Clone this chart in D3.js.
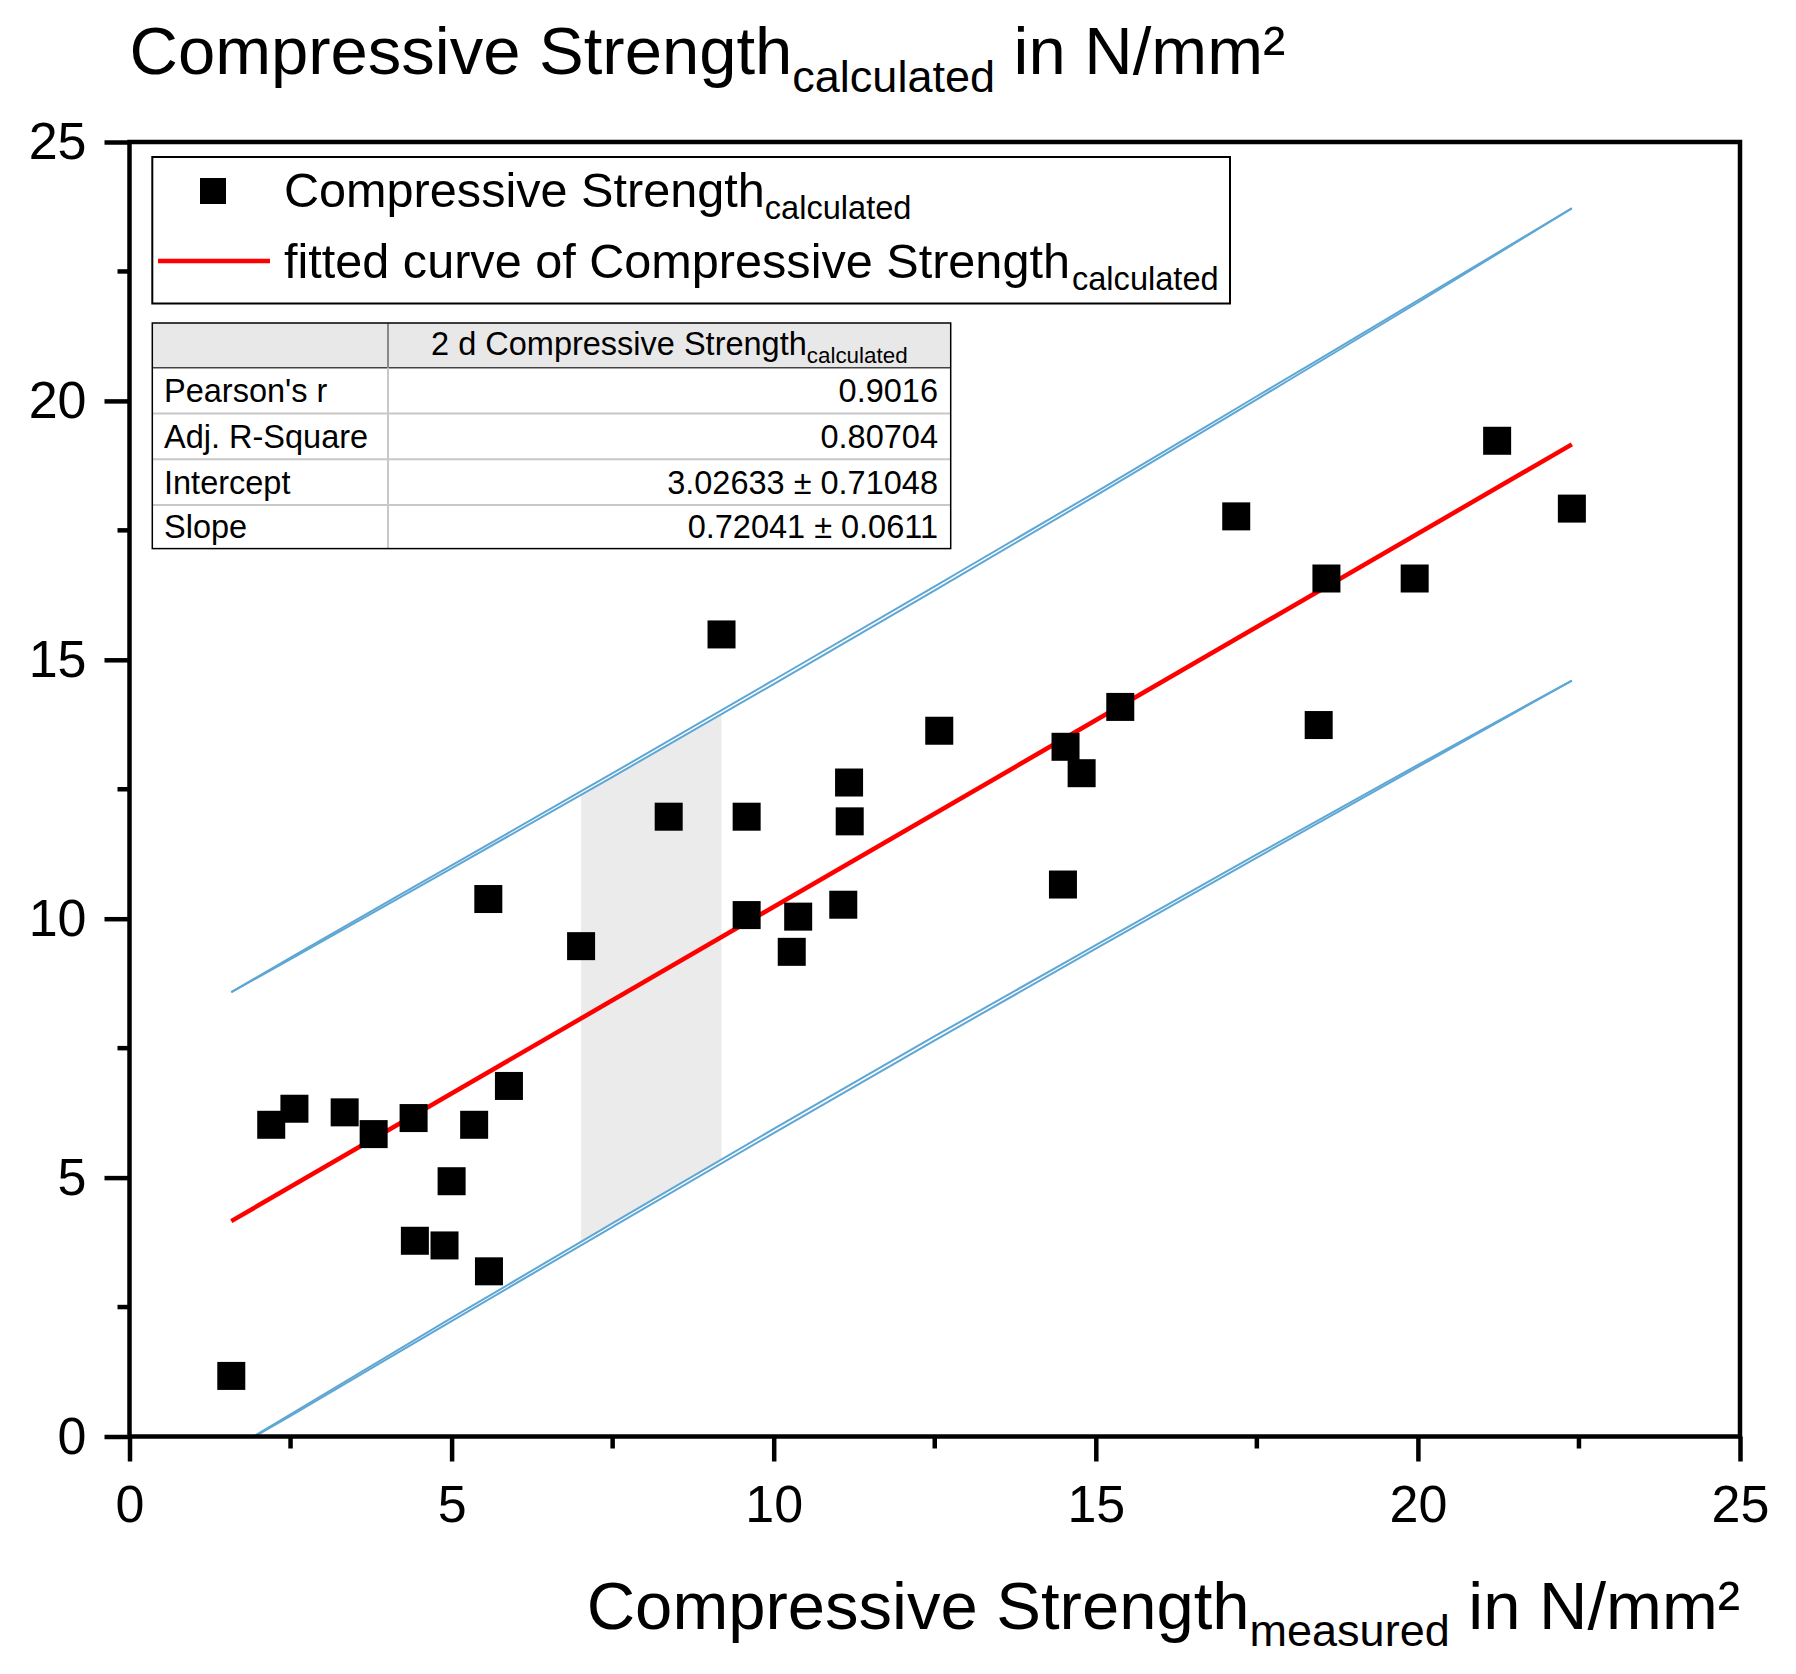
<!DOCTYPE html>
<html>
<head>
<meta charset="utf-8">
<script src="https://cdn.jsdelivr.net/npm/d3@7"></script>
<style>
  body { margin: 0; background: #fff; }
  svg text { font-family: "Liberation Sans", Arial, sans-serif; fill: #000; }
</style>
</head>
<body>
<div id="chart"></div>
<script>
// Measured vs calculated compressive strength (N/mm²)
const measured = [1.58, 2.20, 2.56, 3.34, 3.79, 4.41, 4.43, 4.89, 5.00, 5.35, 5.57, 5.58, 5.89,
  7.01, 8.37, 9.19, 9.58, 9.58, 10.28, 10.38, 11.08, 11.17, 11.18, 12.57, 14.49, 14.53, 14.78,
  15.38, 17.18, 18.46, 18.58, 19.95, 21.23, 22.39];
const calculated = [1.17, 6.02, 6.33, 6.26, 5.84, 6.15, 3.78, 3.69, 4.93, 6.02, 10.38, 3.19, 6.77,
  9.47, 11.97, 15.49, 11.97, 10.07, 9.36, 10.04, 10.27, 12.63, 11.88, 13.63, 10.66, 13.32, 12.81,
  14.09, 17.77, 13.74, 16.57, 16.57, 19.23, 17.92];

// fitted line end points
const fitX = [1.58, 22.39];
const fitY = [4.16, 19.16];

// prediction band lines (two close traces each)
const bandX = [1.58, 2.5, 5, 7.5, 10, 12.5, 15, 17.5, 20, 22.39];
const upperA = [8.58, 9.22, 10.97, 12.74, 14.53, 16.34, 18.17, 20.03, 21.90, 23.72];
const upperB = [8.58, 9.25, 11.03, 12.81, 14.61, 16.42, 18.24, 20.09, 21.94, 23.72];
const lowerA = [-0.26, 0.43, 2.29, 4.12, 5.94, 7.73, 9.49, 11.24, 12.97, 14.60];
const lowerB = [-0.26, 0.40, 2.23, 4.05, 5.86, 7.65, 9.42, 11.18, 12.93, 14.60];

// grey shaded strip
const shadeX = [7.01, 9.19];
const shadeTop = [12.40, 13.93];
const shadeBottom = [3.77, 5.35];

const xTicks = [0, 5, 10, 15, 20, 25];
const yTicks = [0, 5, 10, 15, 20, 25];
const minorTicks = [2.5, 7.5, 12.5, 17.5, 22.5];

const statLabels = ["Pearson's r", "Adj. R-Square", "Intercept", "Slope"];
const statValues = ["0.9016", "0.80704", "3.02633 \u00b1 0.71048", "0.72041 \u00b1 0.0611"];

const width = 1796, height = 1674;
const pLeft = 129.5, pRight = 1740, pTop = 142, pBottom = 1436.5;

const svg = d3.select("#chart").append("svg")
  .attr("width", width)
  .attr("height", height);

const x = d3.scaleLinear().domain([0, 25]).range([pLeft, pRight]);
const y = d3.scaleLinear().domain([0, 25]).range([pBottom, pTop]);

svg.append("clipPath").attr("id", "clip")
  .append("rect")
  .attr("x", pLeft).attr("y", pTop)
  .attr("width", pRight - pLeft).attr("height", pBottom - pTop);

const plot = svg.append("g").attr("clip-path", "url(#clip)");

// shaded strip
const shadePts = [
  [x(shadeX[0]), y(shadeBottom[0])],
  [x(shadeX[0]), y(shadeTop[0])],
  [x(shadeX[1]), y(shadeTop[1])],
  [x(shadeX[1]), y(shadeBottom[1])]
];
plot.append("polygon")
  .attr("points", shadePts.map(p => p.join(",")).join(" "))
  .attr("fill", "#ebebeb");

// bands
const bandLine = d3.line()
  .x(d => x(d[0]))
  .y(d => y(d[1]))
  .curve(d3.curveMonotoneX);

[upperA, upperB, lowerA, lowerB].forEach(arr => {
  plot.append("path")
    .attr("d", bandLine(bandX.map((v, i) => [v, arr[i]])))
    .attr("fill", "none")
    .attr("stroke", "#5ea7d4")
    .attr("stroke-width", 2);
});

// fitted line
plot.append("line")
  .attr("x1", x(fitX[0])).attr("y1", y(fitY[0]))
  .attr("x2", x(fitX[1])).attr("y2", y(fitY[1]))
  .attr("stroke", "#ff0000")
  .attr("stroke-width", 4.5);

// points
const sq = 28;
svg.append("g").selectAll("rect")
  .data(measured.map((v, i) => [v, calculated[i]]))
  .join("rect")
  .attr("x", d => x(d[0]) - sq / 2)
  .attr("y", d => y(d[1]) - sq / 2)
  .attr("width", sq)
  .attr("height", sq)
  .attr("fill", "#000");

// axes
const axisW = 4.5;
const xAxis = svg.append("g")
  .attr("transform", `translate(0,${pBottom})`)
  .call(d3.axisBottom(x).tickValues(xTicks).tickSize(25).tickPadding(24).tickSizeOuter(0));
const yAxis = svg.append("g")
  .attr("transform", `translate(${pLeft},0)`)
  .call(d3.axisLeft(y).tickValues(yTicks).tickSize(25).tickPadding(18).tickSizeOuter(0));

[xAxis, yAxis].forEach(ax => {
  ax.select(".domain").remove();
  ax.selectAll("line").attr("stroke", "#000").attr("stroke-width", axisW);
  ax.selectAll("text").attr("font-size", 52).attr("fill", "#000")
    .style("font-family", "'Liberation Sans', Arial, sans-serif");
});

// minor ticks
svg.append("g").selectAll("line")
  .data(minorTicks)
  .join("line")
  .attr("x1", d => x(d)).attr("x2", d => x(d))
  .attr("y1", pBottom).attr("y2", pBottom + 12)
  .attr("stroke", "#000").attr("stroke-width", axisW);
svg.append("g").selectAll("line")
  .data(minorTicks)
  .join("line")
  .attr("y1", d => y(d)).attr("y2", d => y(d))
  .attr("x1", pLeft).attr("x2", pLeft - 12)
  .attr("stroke", "#000").attr("stroke-width", axisW);

// frame
svg.append("rect")
  .attr("x", pLeft).attr("y", pTop)
  .attr("width", pRight - pLeft).attr("height", pBottom - pTop)
  .attr("fill", "none")
  .attr("stroke", "#000")
  .attr("stroke-width", axisW);

// titles
const yTitle = svg.append("text").attr("x", pLeft).attr("y", 74).attr("font-size", 67);
yTitle.append("tspan").text("Compressive Strength");
yTitle.append("tspan").attr("font-size", 45).attr("dy", 18).text("calculated");
yTitle.append("tspan").attr("dy", -18).text(" in N/mm\u00b2");

const xTitle = svg.append("text").attr("x", pRight).attr("y", 1629)
  .attr("font-size", 67).attr("text-anchor", "end");
xTitle.append("tspan").text("Compressive Strength");
xTitle.append("tspan").attr("font-size", 45).attr("dy", 17).text("measured");
xTitle.append("tspan").attr("dy", -17).text(" in N/mm\u00b2");

// legend
const lg = svg.append("g");
lg.append("rect")
  .attr("x", 152.3).attr("y", 157)
  .attr("width", 1230 - 152.3).attr("height", 303.5 - 157)
  .attr("fill", "#fff").attr("stroke", "#000").attr("stroke-width", 2);
lg.append("rect")
  .attr("x", 200).attr("y", 178).attr("width", 26).attr("height", 26).attr("fill", "#000");
lg.append("line")
  .attr("x1", 158).attr("x2", 270).attr("y1", 261).attr("y2", 261)
  .attr("stroke", "#ff0000").attr("stroke-width", 4.5);
const l1 = lg.append("text").attr("x", 284).attr("y", 207).attr("font-size", 48.6);
l1.append("tspan").text("Compressive Strength");
l1.append("tspan").attr("font-size", 32.6).attr("dy", 12).text("calculated");
const l2 = lg.append("text").attr("x", 284).attr("y", 278).attr("font-size", 48.6);
l2.append("tspan").text("fitted curve of Compressive Strength");
l2.append("tspan").attr("font-size", 32.6).attr("dy", 12).attr("dx", 2).text("calculated");

// statistics table
const tb = svg.append("g");
const tL = 152.3, tR = 950.7, tC = 388;
const rowY = [323, 367.7, 413.5, 459.3, 505, 548.6];
tb.append("rect")
  .attr("x", tL).attr("y", rowY[0])
  .attr("width", tR - tL).attr("height", rowY[1] - rowY[0])
  .attr("fill", "#e8e8e8");
rowY.slice(2, 5).forEach(v => {
  tb.append("line")
    .attr("x1", tL).attr("x2", tR).attr("y1", v).attr("y2", v)
    .attr("stroke", "#c8c8c8").attr("stroke-width", 2);
});
tb.append("line")
  .attr("x1", tL).attr("x2", tR).attr("y1", rowY[1]).attr("y2", rowY[1])
  .attr("stroke", "#444").attr("stroke-width", 1.5);
tb.append("line")
  .attr("x1", tC).attr("x2", tC).attr("y1", rowY[0]).attr("y2", rowY[1])
  .attr("stroke", "#888").attr("stroke-width", 2);
tb.append("line")
  .attr("x1", tC).attr("x2", tC).attr("y1", rowY[1]).attr("y2", rowY[5])
  .attr("stroke", "#c8c8c8").attr("stroke-width", 2);
tb.append("rect")
  .attr("x", tL).attr("y", rowY[0])
  .attr("width", tR - tL).attr("height", rowY[5] - rowY[0])
  .attr("fill", "none").attr("stroke", "#000").attr("stroke-width", 1.5);

const hd = tb.append("text")
  .attr("x", (tC + tR) / 2).attr("y", 355)
  .attr("font-size", 32.5).attr("text-anchor", "middle");
hd.append("tspan").text("2 d Compressive Strength");
hd.append("tspan").attr("font-size", 22.4).attr("dy", 8).text("calculated");

statLabels.forEach((s, i) => {
  const cy = (rowY[i + 1] + rowY[i + 2]) / 2;
  tb.append("text").attr("x", 164).attr("y", cy + 11.5)
    .attr("font-size", 32.5).text(s);
  tb.append("text").attr("x", 938).attr("y", cy + 11.5)
    .attr("font-size", 32.5).attr("text-anchor", "end").text(statValues[i]);
});
</script>
</body>
</html>
